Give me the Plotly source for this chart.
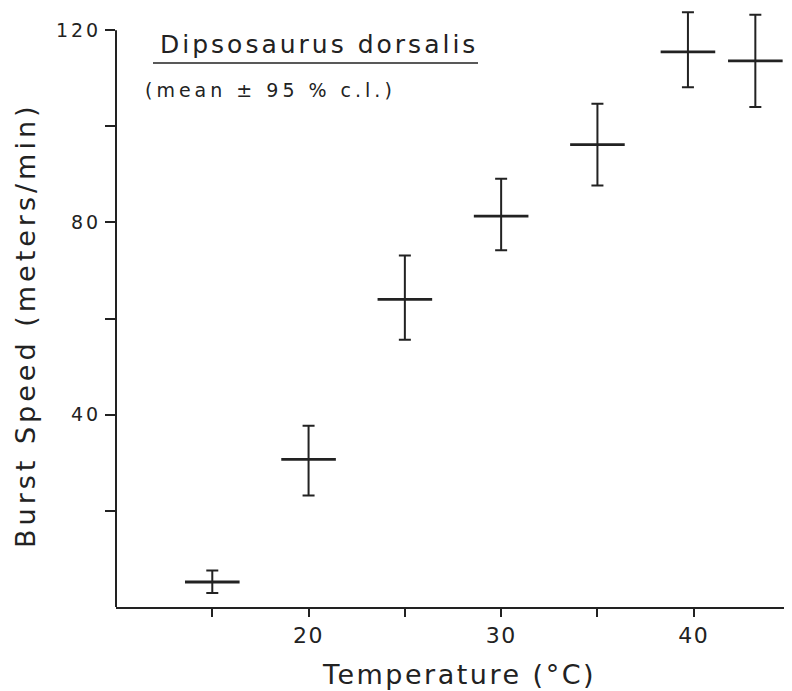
import plotly.graph_objects as go

# Data
temperature = [15, 20, 25, 30, 35, 39.7, 43.2]
speed_mean = [5.2, 30.7, 64.0, 81.3, 96.2, 115.5, 113.6]
ci_upper = [7.6, 37.7, 73.1, 89.1, 104.7, 123.7, 123.2]
ci_lower = [2.9, 23.2, 55.6, 74.2, 87.7, 108.1, 104.0]

x_tickvals = [15, 20, 25, 30, 35, 40, 45]
x_ticklabels = ["", "20", "", "30", "", "40", ""]
y_tickvals = [20, 40, 60, 80, 100, 120]
y_ticklabels = ["", "40", "", "80", "", "120"]

err_plus = [u - m for u, m in zip(ci_upper, speed_mean)]
err_minus = [m - l for m, l in zip(speed_mean, ci_lower)]

INK = "#222222"
FONT = "DejaVu Sans"

# the page body adds an 8px margin, so the figure is drawn 8px smaller
OFF = 8
W, H = 792 - OFF, 691 - OFF
ML, MR, MT, MB = 108, 2, 1, 84
Y_TOP = 124.4  # axis range extends a bit above 120 so caps show


def sp(text, px):
    return f'<span style="letter-spacing:{px}px">{text}</span>'


def px_to_paper_x(px):  # px given in page coordinates
    return (px - OFF - ML) / (W - ML - MR)


def px_to_paper_y(py):  # py given in page coordinates
    return (H - MB - (py - OFF)) / (H - MB - MT)


fig = go.Figure()
fig.add_trace(go.Scatter(
    x=temperature,
    y=speed_mean,
    mode="markers",
    marker=dict(symbol="line-ew", size=39, color=INK,
                line=dict(color=INK, width=2.8)),
    error_y=dict(type="data", symmetric=False, array=err_plus,
                 arrayminus=err_minus, color=INK, thickness=2, width=6),
    showlegend=False,
    cliponaxis=False,
))

fig.update_layout(
    width=W, height=H,
    margin=dict(l=ML, r=MR, t=MT, b=MB),
    paper_bgcolor="white",
    plot_bgcolor="white",
    font=dict(family=FONT, color=INK),
    xaxis=dict(
        range=[10, 45], automargin=False,
        showgrid=False, zeroline=False,
        showline=True, linecolor=INK, linewidth=2,
        ticks="outside", ticklen=8, tickwidth=2, tickcolor=INK,
        tickvals=x_tickvals,
        ticktext=[sp(t, 1.5) if t else "" for t in x_ticklabels],
        tickfont=dict(size=22, family=FONT, color=INK),
    ),
    yaxis=dict(
        range=[0, Y_TOP], automargin=False,
        showgrid=False, zeroline=False,
        showline=False,
        ticks="outside", ticklen=10, tickwidth=2, tickcolor=INK,
        tickvals=y_tickvals,
        ticktext=[sp(t, 3) if t else "" for t in y_ticklabels],
        tickfont=dict(size=19, family=FONT, color=INK),
    ),
)

# y axis line only up to 120
fig.add_shape(type="line", xref="paper", yref="y",
              x0=0, x1=0, y0=0, y1=120,
              line=dict(color=INK, width=2))

# axis titles
fig.add_annotation(
    text=sp("Temperature (°C)", 2.5), xref="paper", yref="paper",
    x=px_to_paper_x(459), y=px_to_paper_y(674),
    xanchor="center", yanchor="middle", showarrow=False,
    font=dict(size=27, family=FONT, color=INK),
)
fig.add_annotation(
    text=sp("Burst Speed (meters/min)", 4), xref="paper", yref="paper",
    x=px_to_paper_x(25), y=px_to_paper_y(325), textangle=-90,
    xanchor="center", yanchor="middle", showarrow=False,
    font=dict(size=27, family=FONT, color=INK),
)

# legend-like label
fig.add_annotation(
    text=sp("Dipsosaurus dorsalis", 3), xref="paper", yref="paper",
    x=px_to_paper_x(158), y=px_to_paper_y(45),
    xanchor="left", yanchor="middle", showarrow=False,
    font=dict(size=25, family=FONT, color=INK),
)
fig.add_shape(
    type="line", xref="paper", yref="paper",
    x0=px_to_paper_x(153), x1=px_to_paper_x(478),
    y0=px_to_paper_y(63), y1=px_to_paper_y(63),
    line=dict(color=INK, width=1.6),
)
fig.add_annotation(
    text=sp("(mean ± 95 % c.l.)", 4), xref="paper", yref="paper",
    x=px_to_paper_x(143), y=px_to_paper_y(90),
    xanchor="left", yanchor="middle", showarrow=False,
    font=dict(size=19, family=FONT, color=INK),
)

fig.write_html("out.html")
